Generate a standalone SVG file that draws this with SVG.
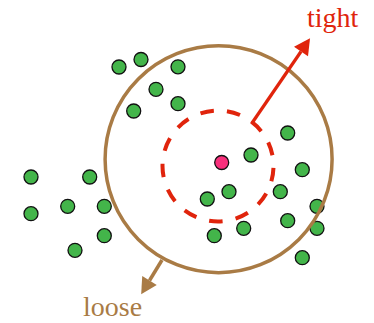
<svg xmlns="http://www.w3.org/2000/svg" width="374" height="323" viewBox="0 0 374 323">
<style>
.dot{fill:#43b54a;stroke:#111;stroke-width:1.3}
.center{fill:#f8307c;stroke:#111;stroke-width:1.3}
.loose{fill:none;stroke:#a97b45;stroke-width:3.5}
.tight{fill:none;stroke:#e0240c;stroke-width:4;stroke-dasharray:13.6 13.22;stroke-dashoffset:-1.9}
.lbl{font-family:"Liberation Serif","Times New Roman",serif;font-size:28px}
</style>
<defs>
<marker id="headRed" markerUnits="userSpaceOnUse" markerWidth="16" markerHeight="17" refX="0" refY="8.5" orient="auto" overflow="visible">
<path d="M0,0 L16,8.5 L0,17 Z" fill="#e0240c"/>
</marker>
<marker id="headBrown" markerUnits="userSpaceOnUse" markerWidth="16" markerHeight="17" refX="0" refY="8.5" orient="auto" overflow="visible">
<path d="M0,0 L16,8.5 L0,17 Z" fill="#a97b45"/>
</marker>
</defs>
<g id="points">
<circle class="dot" cx="119" cy="67" r="7"/>
<circle class="dot" cx="141" cy="59.5" r="7"/>
<circle class="dot" cx="178" cy="66.8" r="7"/>
<circle class="dot" cx="156" cy="89.3" r="7"/>
<circle class="dot" cx="178" cy="103.7" r="7"/>
<circle class="dot" cx="133.7" cy="111" r="7"/>
<circle class="dot" cx="31" cy="177" r="7"/>
<circle class="dot" cx="89.7" cy="177" r="7"/>
<circle class="dot" cx="31" cy="213.7" r="7"/>
<circle class="dot" cx="67.7" cy="206.3" r="7"/>
<circle class="dot" cx="104.3" cy="206.3" r="7"/>
<circle class="dot" cx="104.3" cy="235.7" r="7"/>
<circle class="dot" cx="75" cy="250.3" r="7"/>
<circle class="dot" cx="287.7" cy="133" r="7"/>
<circle class="dot" cx="251" cy="155" r="7"/>
<circle class="dot" cx="302.3" cy="169.7" r="7"/>
<circle class="dot" cx="229" cy="191.7" r="7"/>
<circle class="dot" cx="207.3" cy="199" r="7"/>
<circle class="dot" cx="280.3" cy="191.7" r="7"/>
<circle class="dot" cx="317" cy="206.3" r="7"/>
<circle class="dot" cx="287.7" cy="220.7" r="7"/>
<circle class="dot" cx="243.7" cy="228.3" r="7"/>
<circle class="dot" cx="214.3" cy="235.7" r="7"/>
<circle class="dot" cx="317" cy="228.3" r="7"/>
<circle class="dot" cx="302.3" cy="257.7" r="7"/>
</g>
<g id="query">
<circle class="center" cx="221.7" cy="162.5" r="7"/>
</g>
<g id="loose-region">
<circle class="loose" cx="218.6" cy="159.2" r="113.5"/>
</g>
<g id="tight-region">
<circle class="tight" cx="218" cy="166" r="55.5"/>
</g>
<g id="connectors">
<path d="M251.7,123.5 L301,51.5" fill="none" stroke="#e0240c" stroke-width="3.2" marker-end="url(#headRed)"/>
<path d="M162,260 L149.5,280.5" fill="none" stroke="#a97b45" stroke-width="3.5" marker-end="url(#headBrown)"/>
</g>
<g id="labels">
<text class="lbl" x="307" y="27" fill="#e0240c">tight</text>
<text class="lbl" x="83" y="316" fill="#a97b45">loose</text>
</g>
</svg>
